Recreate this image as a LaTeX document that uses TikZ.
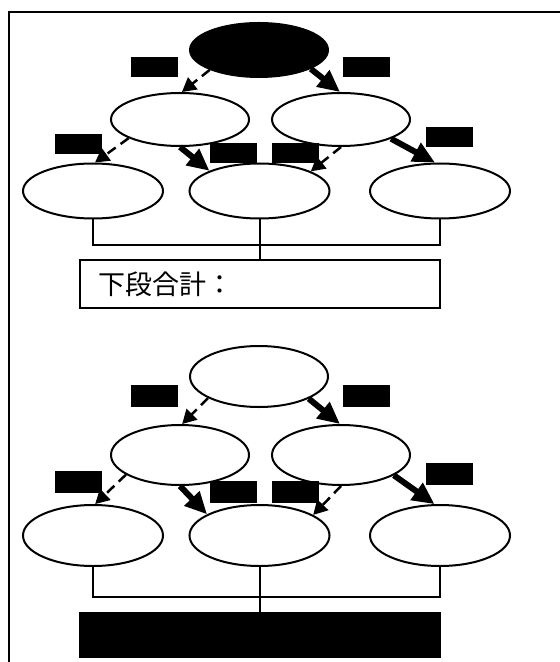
\documentclass[tikz,border=0pt]{standalone}
\usepackage{fontspec}
\newfontfamily\jpfont{Noto Sans CJK JP}
\usetikzlibrary{arrows.meta, shapes.geometric}

\begin{document}
\begin{tikzpicture}[x=0.5pt, y=-0.5pt,
    oval/.style={ellipse, draw, line width=1pt, minimum width=69pt, inner sep=0pt},
    tag/.style={fill=black, minimum width=23.5pt, inner sep=0pt},
    weak/.style={-{Triangle[length=7pt, width=7.5pt]}, line width=1.25pt, dash pattern=on 5pt off 3pt},
    strong/.style={-{Triangle[length=11pt, width=10pt]}, line width=3pt},
    sumbox/.style={draw, line width=1pt, minimum width=180pt, inner sep=0pt}]
    \useasboundingbox (0,0) rectangle (560,662);
    \draw[line width=1pt] (8.5,662) -- (8.5,12.5) -- (560,12.5);

    \node[oval, fill=black, minimum height=27pt] (T1) at (259,50) {};
    \node[oval, minimum height=26.5pt] (L1) at (180,119.5) {};
    \node[oval, minimum height=26.5pt] (R1) at (341,119.5) {};
    \node[oval, minimum width=70pt, minimum height=27.5pt] (BL1) at (93,191) {};
    \node[oval, minimum width=70pt, minimum height=27.5pt] (BM1) at (259.5,191) {};
    \node[oval, minimum width=70pt, minimum height=27.5pt] (BR1) at (440,191) {};
    \node[sumbox, minimum height=24pt, text width=161pt, inner xsep=9.5pt, align=left,
        font=\jpfont\fontsize{13.5pt}{16pt}\selectfont] (S1) at (259.5,284) {下段合計：};
    \coordinate (J1) at (259.5,245);

    \draw[weak] (T1.202) -- (L1.86);
    \draw[strong] (T1.340) -- (R1.92);
    \draw[weak] (L1.200) -- (BL1.86);
    \draw[strong] (L1.270) -- (BM1.158);
    \draw[weak] (R1.270) -- (BM1.21);
    \draw[strong] (R1.339) -- (BR1.100);
    \draw[line width=1pt] (BL1.south) |- (J1) -| (BR1.south);
    \draw[line width=1pt] (BM1.south) -- (S1.north);

    \node[tag, minimum height=10pt] (a1) at (154.5,67) {};
    \node[tag, minimum height=10pt] (b1) at (366.5,67) {};
    \node[tag, minimum height=10pt] (c1) at (78.5,144) {};
    \node[tag, minimum height=10pt] (d1) at (233.5,153) {};
    \node[tag, minimum height=10pt] (e1) at (295.5,153) {};
    \node[tag, minimum height=10pt] (f1) at (449.5,137) {};

    \node[oval, minimum height=30.5pt] (T2) at (259,376.5) {};
    \node[oval, minimum height=30pt] (L2) at (180,455) {};
    \node[oval, minimum height=30pt] (R2) at (341,455) {};
    \node[oval, minimum width=70pt, minimum height=30.5pt] (BL2) at (93,535.5) {};
    \node[oval, minimum width=70pt, minimum height=30.5pt] (BM2) at (259.5,535.5) {};
    \node[oval, minimum width=70pt, minimum height=30.5pt] (BR2) at (440,535.5) {};
    \node[sumbox, fill=black, minimum height=22pt] (S2) at (259.5,635) {};
    \coordinate (J2) at (259.5,597);

    \draw[weak] (T2.203) -- (L2.86);
    \draw[strong] (T2.336) -- (R2.92);
    \draw[weak] (L2.200) -- (BL2.86);
    \draw[strong] (L2.270) -- (BM2.158);
    \draw[weak] (R2.270) -- (BM2.21);
    \draw[strong] (R2.339) -- (BR2.100);
    \draw[line width=1pt] (BL2.south) |- (J2) -| (BR2.south);
    \draw[line width=1pt] (BM2.south) -- (S2.north);

    \node[tag, minimum height=11pt] (a2) at (154.5,396) {};
    \node[tag, minimum height=11pt] (b2) at (366.5,396) {};
    \node[tag, minimum height=11pt] (c2) at (78.5,482) {};
    \node[tag, minimum height=11pt] (d2) at (233.5,492) {};
    \node[tag, minimum height=11pt] (e2) at (295.5,492) {};
    \node[tag, minimum height=11pt] (f2) at (449.5,474) {};
\end{tikzpicture}
\end{document}
